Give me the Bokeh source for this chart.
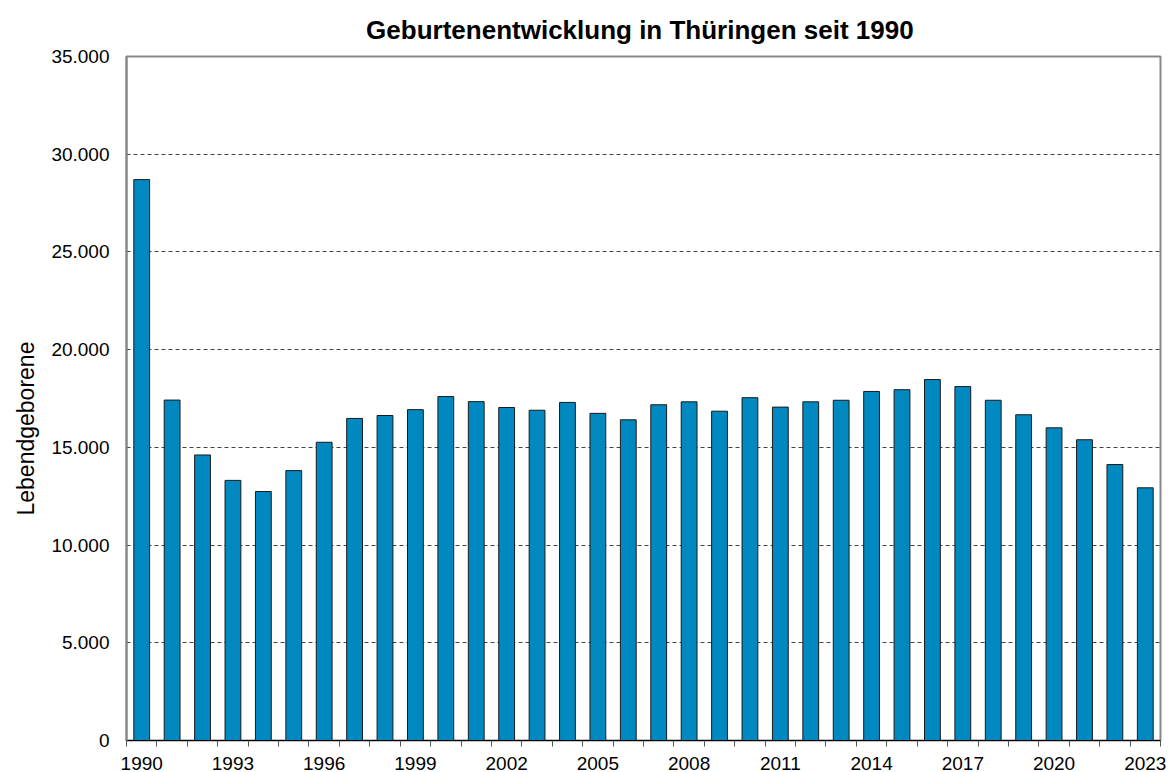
from bokeh.plotting import figure
from bokeh.models import Range1d, FixedTicker, Title
from bokeh.embed import file_html
from bokeh.resources import INLINE

years = list(range(1990, 2024))
births = [28700, 17420, 14610, 13310, 12740, 13810, 15260, 16480, 16630, 16930,
          17600, 17340, 17040, 16900, 17300, 16740, 16410, 17180, 17330, 16850,
          17540, 17060, 17330, 17410, 17860, 17950, 18470, 18110, 17410, 16670,
          16000, 15390, 14120, 12930]

y_ticks = [0, 5000, 10000, 15000, 20000, 25000, 30000, 35000]
y_tick_labels = ["0", "5.000", "10.000", "15.000", "20.000", "25.000", "30.000", "35.000"]
x_label_years = [1990, 1993, 1996, 1999, 2002, 2005, 2008, 2011, 2014, 2017, 2020, 2023]

FONT = "Liberation Sans"

p = figure(width=1176, height=772, output_backend="svg", toolbar_location=None,
           x_range=Range1d(1989.5, 2023.5), y_range=Range1d(0, 35000),
           min_border_left=126, min_border_right=16, min_border_top=56, min_border_bottom=32)

p.title.text = "Geburtenentwicklung  in Thüringen seit 1990"
p.title.text_font = FONT
p.title.text_font_size = "26px"
p.title.text_font_style = "bold"
p.title.align = "center"
p.title.text_color = "#000000"
p.title.standoff = 24

p.vbar(x=years, top=births, width=0.52, fill_color="#0088C0", line_color="#1a1a1a", line_width=1)

# y axis
p.yaxis.ticker = FixedTicker(ticks=y_ticks)
p.yaxis.major_label_overrides = {t: l for t, l in zip(y_ticks, y_tick_labels)}
p.yaxis.major_tick_out = 0
p.yaxis.major_tick_in = 0
p.yaxis.minor_tick_out = 0
p.yaxis.minor_tick_in = 0
p.yaxis.major_label_standoff = 17
p.yaxis.major_label_text_font = FONT
p.yaxis.major_label_text_font_size = "19px"
p.yaxis.major_label_text_color = "#000000"
p.yaxis.axis_line_color = "#888888"
p.yaxis.axis_line_width = 2

ytitle = Title(text="Lebendgeborene", align="left", offset=225, standoff=20,
               text_font=FONT, text_font_size="23px", text_font_style="normal",
               text_color="#000000")
p.add_layout(ytitle, "left")

# x axis
minor = [y - 0.5 for y in years] + [years[-1] + 0.5]
p.xaxis.ticker = FixedTicker(ticks=x_label_years, minor_ticks=minor)
p.xaxis.major_tick_out = 0
p.xaxis.major_tick_in = 0
p.xaxis.minor_tick_out = 6
p.xaxis.minor_tick_in = 0
p.xaxis.minor_tick_line_color = "#555555"
p.xaxis.major_label_standoff = 10
p.xaxis.major_label_text_font = FONT
p.xaxis.major_label_text_font_size = "19px"
p.xaxis.major_label_text_color = "#000000"
p.xaxis.axis_line_color = "#000000"
p.xaxis.axis_line_width = 1

# grid
p.xgrid.visible = False
p.ygrid.ticker = FixedTicker(ticks=y_ticks[1:-1])
p.ygrid.grid_line_color = "#444444"
p.ygrid.grid_line_dash = "4 3"
p.ygrid.grid_line_width = 1

p.outline_line_color = "#888888"
p.outline_line_width = 2

p.background_fill_color = "white"
p.border_fill_color = "white"

open("out.html", "w").write(file_html(p, INLINE))
